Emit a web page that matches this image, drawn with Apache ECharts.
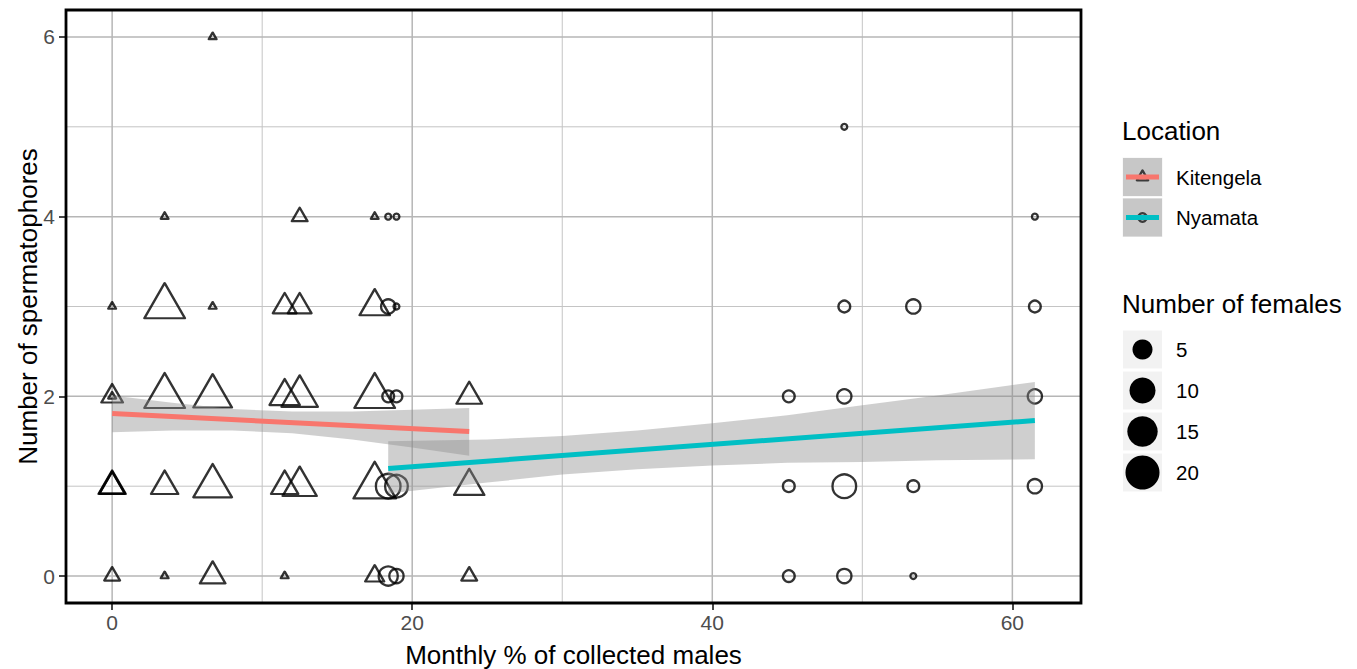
<!DOCTYPE html>
<html><head><meta charset="utf-8">
<script src="https://cdn.jsdelivr.net/npm/echarts@6/dist/echarts.min.js"></script>
<style>html,body{margin:0;padding:0;background:#fff}#c{width:1357px;height:669px}</style>
</head><body><div id="c"></div>
<script>
// ---------------- data ----------------
const kitX = [0,0,0,0,0,0,0, 3.5,3.5,3.5,3.5,3.5, 6.7,6.7,6.7,6.7,6.7, 11.5,11.5,11.5,11.5, 12.5,12.5,12.5,12.5, 17.5,17.5,17.5,17.5,17.5, 23.8,23.8,23.8];
const kitY = [0,1,1,1,2,2,3, 0,1,2,3,4, 0,1,2,3,6, 0,1,2,3, 1,2,3,4, 0,1,2,3,4, 0,1,2];
const kitN = [2,7,6,6,4,1,1, 1,7,18,18,1, 6,16,16,1,1, 1,7,9,5, 12,14,5,2, 3,20,18,9,1, 2,9,6];

const nyaX = [18.4,18.4,18.4,18.4,18.4, 18.95,18.95,18.95,18.95,18.95, 45.1,45.1,45.1, 48.8,48.8,48.8,48.8,48.8, 53.4,53.4,53.4, 61.5,61.5,61.5,61.5];
const nyaY = [0,1,2,3,4, 0,1,2,3,4, 0,1,2, 0,1,2,3,5, 0,1,3, 1,2,3,4];
const nyaN = [6,11,2,3,1, 3,9,2,1,1, 2,2,2, 3,10,3,2,1, 1,2,3, 3,3,2,1];

const kitFitX = [0, 23.8];
const kitFitY = [1.808, 1.609];
const nyaFitX = [18.4, 61.5];
const nyaFitY = [1.198, 1.731];

const kitBandX  = [0, 4, 8, 12, 16, 20, 23.8];
const kitBandLo = [1.60, 1.62, 1.62, 1.59, 1.52, 1.43, 1.34];
const kitBandHi = [2.01, 1.93, 1.86, 1.83, 1.83, 1.85, 1.87];

const nyaBandX  = [18.4, 25, 30, 35, 40, 45, 50, 55, 61.5];
const nyaBandLo = [0.92, 1.04, 1.13, 1.19, 1.23, 1.26, 1.27, 1.29, 1.30];
const nyaBandHi = [1.50, 1.52, 1.56, 1.62, 1.70, 1.79, 1.90, 2.01, 2.16];

const xTicks = [0, 20, 40, 60];
const xMinor = [10, 30, 50];
const yTicks = [0, 2, 4, 6];
const yMinor = [1, 3, 5];
const sizeBreaks = [5, 10, 15, 20];
const locations = ['Kitengela', 'Nyamata'];

// ---------------- style ----------------
const xMin = -3.075, xMax = 64.575, yMin = -0.3, yMax = 6.3;
const nMin = 1, nMax = 22;
const FONT = '"Liberation Sans", Arial, Helvetica, sans-serif';
const kitColor = '#F8766D', nyaColor = '#00BFC4';
const bandFill = 'rgba(140,140,140,0.42)';
const STROKE = 2.3;
function sizeScale(n) { return 1 + 5 * Math.sqrt(Math.max(0, n - nMin) / (nMax - nMin)); }
function circD(n) { return 2.77 + 5.43 * sizeScale(n); }
function triW(n) { return 2.7 + 7.3 * sizeScale(n); }

function vGrid(vals, color, width) {
  return { type: 'custom', z: 1, silent: true, data: vals.map(v => [v, yMin]),
    renderItem: (p, api) => { const a = api.coord([api.value(0), yMin]); const b = api.coord([api.value(0), yMax]);
      return { type: 'line', shape: { x1: a[0], y1: a[1], x2: b[0], y2: b[1] }, style: { stroke: color, lineWidth: width } }; } };
}
function hGrid(vals, color, width) {
  return { type: 'custom', z: 1, silent: true, data: vals.map(v => [xMin, v]),
    renderItem: (p, api) => { const a = api.coord([xMin, api.value(1)]); const b = api.coord([xMax, api.value(1)]);
      return { type: 'line', shape: { x1: a[0], y1: a[1], x2: b[0], y2: b[1] }, style: { stroke: color, lineWidth: width } }; } };
}
function bandSeries(xs, lo, hi) {
  return { type: 'custom', z: 3, silent: true, data: [[xs[0], lo[0]]],
    renderItem: function (params, api) {
      const pts = [];
      for (let i = 0; i < xs.length; i++) pts.push(api.coord([xs[i], hi[i]]));
      for (let i = xs.length - 1; i >= 0; i--) pts.push(api.coord([xs[i], lo[i]]));
      return { type: 'polygon', shape: { points: pts }, style: { fill: bandFill, stroke: null } };
    } };
}
function fitSeries(xs, ys, color) {
  return { type: 'line', z: 4, silent: true, symbol: 'none', data: xs.map((x, i) => [x, ys[i]]),
    lineStyle: { color: color, width: 5, cap: 'butt' } };
}

const pointStyle = { color: 'rgba(0,0,0,0)', borderColor: '#000', borderWidth: STROKE, borderJoin: 'round' };

// legend graphics
const graphics = [];
graphics.push({ type: 'rect', z: 100, shape: { x: 66, y: 10, width: 1015, height: 593 }, style: { fill: null, stroke: '#000', lineWidth: 2.8 } });
graphics.push({ type: 'text', x: 573.5, y: 655, style: { text: 'Monthly % of collected males', font: '26px ' + FONT, fill: '#000', align: 'center', verticalAlign: 'middle', textAlign: 'center', textVerticalAlign: 'middle' } });
graphics.push({ type: 'text', x: 28, y: 306.5, rotation: Math.PI / 2, style: { text: 'Number of spermatophores', font: '26px ' + FONT, fill: '#000', align: 'center', verticalAlign: 'middle', textAlign: 'center', textVerticalAlign: 'middle' } });
graphics.push({ type: 'text', x: 1122, y: 131, style: { text: 'Location', font: '26px ' + FONT, fill: '#000', align: 'left', verticalAlign: 'middle', textAlign: 'left', textVerticalAlign: 'middle' } });
const locColors = [kitColor, nyaColor];
locations.forEach((name, i) => {
  const cy = 177 + i * 40.5, cx = 1142.5;
  graphics.push({ type: 'rect', shape: { x: 1122, y: cy - 20, width: 41, height: 40 }, style: { fill: '#f2f2f2', stroke: '#fff', lineWidth: 1 } });
  const s = 1.5;
  if (i === 0) {
    const w = 2.7 + 7.3 * s - STROKE, r = w / Math.sqrt(3);
    graphics.push({ type: 'polygon', shape: { points: [[cx, cy - r], [cx + w / 2, cy + r / 2], [cx - w / 2, cy + r / 2]] }, style: { fill: null, stroke: '#000', lineWidth: STROKE, lineJoin: 'round' } });
  } else {
    const d = 2.77 + 5.43 * s - STROKE;
    graphics.push({ type: 'circle', shape: { cx: cx, cy: cy, r: d / 2 }, style: { fill: null, stroke: '#000', lineWidth: STROKE } });
  }
  graphics.push({ type: 'rect', shape: { x: 1123, y: cy - 19, width: 39, height: 38 }, style: { fill: bandFill } });
  graphics.push({ type: 'line', shape: { x1: 1126, y1: cy, x2: 1159, y2: cy }, style: { stroke: locColors[i], lineWidth: 5 } });
  graphics.push({ type: 'text', x: 1176, y: cy, style: { text: name, font: '20.5px ' + FONT, fill: '#000', align: 'left', verticalAlign: 'middle', textAlign: 'left', textVerticalAlign: 'middle' } });
});
graphics.push({ type: 'text', x: 1122, y: 304, style: { text: 'Number of females', font: '26px ' + FONT, fill: '#000', align: 'left', verticalAlign: 'middle', textAlign: 'left', textVerticalAlign: 'middle' } });
sizeBreaks.forEach((b, i) => {
  const cy = 349.5 + i * 41, cx = 1142.5;
  graphics.push({ type: 'rect', shape: { x: 1122, y: cy - 20, width: 41, height: 40 }, style: { fill: '#f2f2f2', stroke: '#fff', lineWidth: 2 } });
  graphics.push({ type: 'circle', shape: { cx: cx, cy: cy, r: circD(b) / 2 }, style: { fill: '#000' } });
  graphics.push({ type: 'text', x: 1176, y: cy, style: { text: String(b), font: '20.5px ' + FONT, fill: '#000', align: 'left', verticalAlign: 'middle', textAlign: 'left', textVerticalAlign: 'middle' } });
});

const chart = echarts.init(document.getElementById('c'), null, { renderer: 'svg' });
chart.setOption({
  animation: false,
  backgroundColor: '#fff',
  textStyle: { fontFamily: FONT },
  grid: { left: 66, top: 10, right: 276, bottom: 66, containLabel: false, outerBoundsMode: 'none' },
  xAxis: {
    type: 'value', min: xMin, max: xMax, position: 'bottom',
    axisLine: { show: false, onZero: false },
    splitLine: { show: false },
    axisTick: { show: true, inside: false, customValues: xTicks, length: 7, lineStyle: { color: '#333', width: 1.8 } },
    axisLabel: { customValues: xTicks, color: '#4d4d4d', fontSize: 21, margin: 9, fontFamily: FONT }
  },
  yAxis: {
    type: 'value', min: yMin, max: yMax, position: 'left',
    axisLine: { show: false, onZero: false },
    splitLine: { show: false },
    axisTick: { show: true, inside: false, customValues: yTicks, length: 7, lineStyle: { color: '#333', width: 1.8 } },
    axisLabel: { customValues: yTicks, color: '#4d4d4d', fontSize: 21, margin: 11, fontFamily: FONT }
  },
  graphic: graphics,
  series: [
    vGrid(xMinor, '#c4c4c4', 1.0),
    hGrid(yMinor, '#c4c4c4', 1.0),
    vGrid(xTicks, '#b6b6b6', 1.5),
    hGrid(yTicks, '#b6b6b6', 1.5),
    { type: 'scatter', z: 2, silent: true, name: 'Kitengela', symbol: 'triangle',
      data: kitX.map((x, i) => [x, kitY[i], kitN[i]]),
      symbolSize: function (v) { const w = triW(v[2]) - STROKE; return [w, w * 0.866]; },
      symbolOffset: [0, '-16.667%'],
      itemStyle: pointStyle },
    { type: 'scatter', z: 2, silent: true, name: 'Nyamata', symbol: 'circle',
      data: nyaX.map((x, i) => [x, nyaY[i], nyaN[i]]),
      symbolSize: function (v) { return circD(v[2]) - STROKE; },
      itemStyle: pointStyle },
    bandSeries(kitBandX, kitBandLo, kitBandHi),
    fitSeries(kitFitX, kitFitY, kitColor),
    bandSeries(nyaBandX, nyaBandLo, nyaBandHi),
    fitSeries(nyaFitX, nyaFitY, nyaColor)
  ]
});
</script></body></html>
